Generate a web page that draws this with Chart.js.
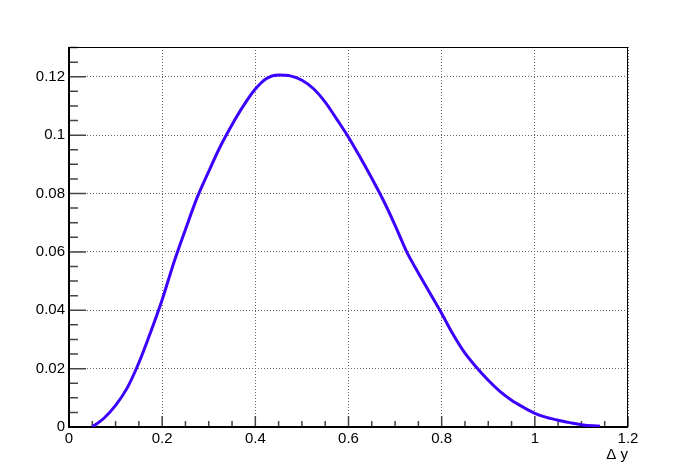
<!DOCTYPE html>
<html>
<head>
<meta charset="UTF-8">
<title>Δ y</title>
<script src="https://cdn.jsdelivr.net/npm/chart.js"></script>
<style>
    body {
        margin: 0;
        background-color: #fff;
    }
</style>
</head>
<body>
<canvas id="dyChart" width="698" height="475"></canvas>
<script>
    // values
    const deltaY = [0.05, 0.075, 0.1, 0.125, 0.15, 0.175, 0.2, 0.225, 0.25, 0.275,
        0.3, 0.325, 0.35, 0.375, 0.4, 0.425, 0.45, 0.475, 0.5, 0.525,
        0.55, 0.575, 0.6, 0.625, 0.65, 0.675, 0.7, 0.725, 0.75, 0.775,
        0.8, 0.825, 0.85, 0.875, 0.9, 0.925, 0.95, 0.975, 1.0, 1.025,
        1.05, 1.075, 1.1, 1.125, 1.14];
    const density = [0, 0.0030, 0.0074, 0.0134, 0.0220, 0.0324, 0.0436, 0.0563, 0.0677, 0.0786,
        0.0876, 0.0962, 0.1036, 0.1102, 0.1158, 0.1195, 0.1206, 0.1203, 0.1188, 0.1159,
        0.1113, 0.1054, 0.0993, 0.0924, 0.0852, 0.0776, 0.0691, 0.0600, 0.0528, 0.0458,
        0.0389, 0.0316, 0.0253, 0.0204, 0.0160, 0.0122, 0.0092, 0.0068, 0.0047, 0.0033,
        0.0023, 0.0015, 0.0008, 0.0004, 0.0003];

    const xTicks = [0, 0.2, 0.4, 0.6, 0.8, 1.0, 1.2];
    const yTicks = [0, 0.02, 0.04, 0.06, 0.08, 0.1, 0.12];
    const xMinorStep = 0.05;
    const yMinorStep = 0.005;
    const xTitle = 'Δ y';

    const labelFont = { family: "'Liberation Sans', Arial, sans-serif", size: 15 };

    // ROOT style frame with inward ticks
    const rootAxes = {
        id: 'rootAxes',
        beforeDatasetsDraw(chart) {
            const { ctx, chartArea: a, scales: { x, y } } = chart;
            ctx.save();
            ctx.strokeStyle = '#444';
            ctx.lineWidth = 1.5;
            ctx.beginPath();
            for (let v = 0; v <= x.max + 1e-9; v += xMinorStep) {
                const px = x.getPixelForValue(v);
                const major = Math.abs(v / 0.2 - Math.round(v / 0.2)) < 1e-6;
                ctx.moveTo(px, a.bottom);
                ctx.lineTo(px, a.bottom - (major ? 11 : 6));
            }
            for (let v = 0; v <= y.max + 1e-9; v += yMinorStep) {
                const py = y.getPixelForValue(v);
                const major = Math.abs(v / 0.02 - Math.round(v / 0.02)) < 1e-6;
                ctx.moveTo(a.left, py);
                ctx.lineTo(a.left + (major ? 17 : 9), py);
            }
            ctx.stroke();

            ctx.strokeStyle = '#000';
            ctx.lineWidth = 1;
            ctx.strokeRect(a.left + 0.5, a.top + 0.5, a.right - a.left - 1, a.bottom - a.top - 1);
            ctx.lineWidth = 2;
            ctx.beginPath();
            ctx.moveTo(a.left, a.top);
            ctx.lineTo(a.left, a.bottom);
            ctx.lineTo(a.right, a.bottom);
            ctx.stroke();
            ctx.restore();
        },
        afterDraw(chart) {
            const { ctx, chartArea: a } = chart;
            ctx.save();
            ctx.font = '15px ' + labelFont.family;
            ctx.fillStyle = '#000';
            ctx.textAlign = 'right';
            ctx.textBaseline = 'alphabetic';
            ctx.fillText(xTitle, a.right, 459);
            ctx.restore();
        }
    };

    const fmt = v => String(+(+v).toFixed(3));

    new Chart(document.getElementById('dyChart'), {
        type: 'scatter',
        data: {
            datasets: [{
                data: deltaY.map((v, i) => ({ x: v, y: density[i] })),
                showLine: true,
                borderColor: '#3c00ff',
                borderWidth: 3,
                pointRadius: 0,
                cubicInterpolationMode: 'monotone',
                fill: false
            }]
        },
        options: {
            responsive: false,
            animation: false,
            layout: { padding: { top: 47, right: 70, left: 0, bottom: 0 } },
            plugins: {
                legend: { display: false },
                tooltip: { enabled: false }
            },
            scales: {
                x: {
                    type: 'linear',
                    min: 0,
                    max: 1.2,
                    afterBuildTicks: s => { s.ticks = xTicks.map(v => ({ value: v })); },
                    afterFit: s => { s.height = 48; },
                    grid: { color: '#666', lineWidth: 1, drawTicks: false },
                    border: { display: false, dash: [1, 2] },
                    ticks: {
                        padding: 3,
                        autoSkip: false,
                        maxRotation: 0,
                        color: '#000',
                        font: labelFont,
                        callback: fmt
                    }
                },
                y: {
                    type: 'linear',
                    min: 0,
                    max: 0.1302,
                    afterBuildTicks: s => { s.ticks = yTicks.map(v => ({ value: v })); },
                    afterFit: s => { s.width = 69; },
                    grid: { color: '#666', lineWidth: 1, drawTicks: false },
                    border: { display: false, dash: [1, 2] },
                    ticks: {
                        padding: 4,
                        autoSkip: false,
                        color: '#000',
                        font: labelFont,
                        callback: fmt
                    }
                }
            }
        },
        plugins: [rootAxes]
    });
</script>
</body>
</html>
